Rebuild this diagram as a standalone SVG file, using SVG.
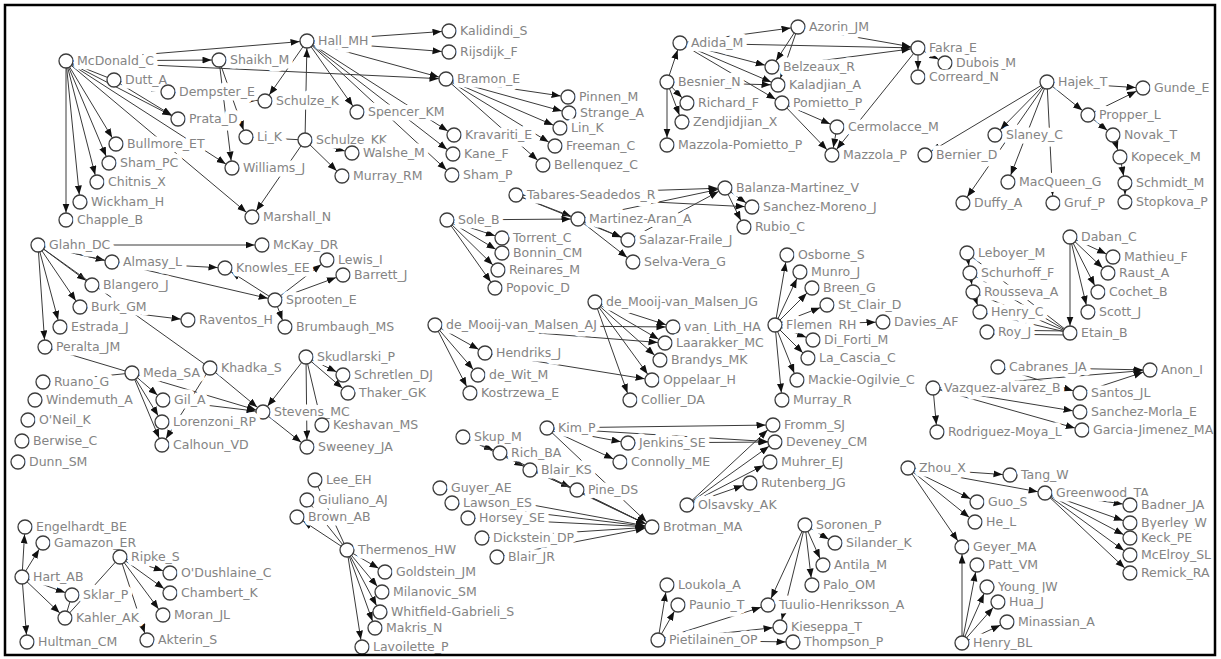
<svg xmlns="http://www.w3.org/2000/svg" width="1221" height="659" viewBox="0 0 1221 659">
<style>
  .frame { fill: none; stroke: #000000; stroke-width: 2.5; }
  #connectors line { stroke: #3a3a3a; stroke-width: 1; }
  #connectors line.a { marker-end: url(#arr); }
  .node circle { fill: #ffffff; stroke: #3c3c3c; stroke-width: 1.3; }
  .node text { font-family: "DejaVu Sans", "Liberation Sans", sans-serif; font-size: 12.5px; fill: #848484; stroke: #ffffff; stroke-width: 9; stroke-linejoin: round; paint-order: stroke; }
</style>
<defs>
  <marker id="arr" markerUnits="userSpaceOnUse" markerWidth="10" markerHeight="8" refX="16.5" refY="3.5" orient="auto">
    <path d="M0,0 L9,3.5 L0,7 z" fill="#111111"/>
  </marker>
</defs>
<rect x="0" y="0" width="1221" height="659" fill="#ffffff"/>

<g id="connectors">
  <!-- McDonald / Hall / Bramon group -->
  <line class="a" x1="66" y1="61" x2="307" y2="41"/>
  <line class="a" x1="66" y1="61" x2="219" y2="60"/>
  <line class="a" x1="66" y1="61" x2="446" y2="79"/>
  <line class="a" x1="114" y1="80" x2="66" y2="61"/>
  <line class="a" x1="114" y1="80" x2="168" y2="92"/>
  <line class="a" x1="114" y1="80" x2="178" y2="119"/>
  <line class="a" x1="66" y1="61" x2="178" y2="119"/>
  <line class="a" x1="66" y1="61" x2="116" y2="144"/>
  <line class="a" x1="66" y1="61" x2="109" y2="163"/>
  <line class="a" x1="66" y1="61" x2="97" y2="182"/>
  <line class="a" x1="66" y1="61" x2="80" y2="202"/>
  <line class="a" x1="66" y1="61" x2="66" y2="220"/>
  <line class="a" x1="66" y1="61" x2="232" y2="168"/>
  <line class="a" x1="66" y1="61" x2="252" y2="217"/>
  <line class="a" x1="219" y1="60" x2="232" y2="168"/>
  <line class="a" x1="219" y1="60" x2="246" y2="137"/>
  <line class="a" x1="307" y1="41" x2="265" y2="101"/>
  <line class="a" x1="168" y1="92" x2="265" y2="101"/>
  <line class="a" x1="305" y1="140" x2="307" y2="41"/>
  <line x1="246" y1="137" x2="305" y2="140"/>
  <line class="a" x1="305" y1="140" x2="252" y2="217"/>
  <line class="a" x1="305" y1="140" x2="352" y2="153"/>
  <line class="a" x1="305" y1="140" x2="342" y2="176"/>
  <line class="a" x1="307" y1="41" x2="449" y2="31"/>
  <line class="a" x1="307" y1="41" x2="449" y2="52"/>
  <line class="a" x1="307" y1="41" x2="446" y2="79"/>
  <line class="a" x1="307" y1="41" x2="357" y2="112"/>
  <line class="a" x1="307" y1="41" x2="454" y2="135"/>
  <line class="a" x1="307" y1="41" x2="453" y2="154"/>
  <line class="a" x1="307" y1="41" x2="452" y2="175"/>
  <line class="a" x1="446" y1="79" x2="568" y2="97"/>
  <line class="a" x1="446" y1="79" x2="569" y2="113"/>
  <line class="a" x1="446" y1="79" x2="560" y2="128"/>
  <line class="a" x1="446" y1="79" x2="555" y2="146"/>
  <line class="a" x1="446" y1="79" x2="543" y2="165"/>

  <!-- Adida / Fakra group -->
  <line class="a" x1="680" y1="43" x2="798" y2="27"/>
  <line class="a" x1="680" y1="43" x2="918" y2="48"/>
  <line class="a" x1="798" y1="27" x2="918" y2="48"/>
  <line class="a" x1="772" y1="67" x2="918" y2="48"/>
  <line class="a" x1="798" y1="27" x2="772" y2="67"/>
  <line class="a" x1="798" y1="27" x2="778" y2="85"/>
  <line class="a" x1="680" y1="43" x2="772" y2="67"/>
  <line class="a" x1="680" y1="43" x2="778" y2="85"/>
  <line class="a" x1="680" y1="43" x2="782" y2="103"/>
  <line class="a" x1="667" y1="82" x2="680" y2="43"/>
  <line class="a" x1="667" y1="82" x2="778" y2="85"/>
  <line class="a" x1="667" y1="82" x2="687" y2="103"/>
  <line class="a" x1="667" y1="82" x2="682" y2="122"/>
  <line class="a" x1="667" y1="82" x2="667" y2="145"/>
  <line class="a" x1="782" y1="103" x2="832" y2="155"/>
  <line class="a" x1="782" y1="103" x2="837" y2="127"/>
  <line class="a" x1="837" y1="127" x2="832" y2="155"/>
  <line class="a" x1="918" y1="48" x2="832" y2="155"/>
  <line class="a" x1="918" y1="48" x2="945" y2="63"/>
  <line class="a" x1="918" y1="48" x2="918" y2="77"/>

  <!-- Hajek group -->
  <line class="a" x1="1047" y1="82" x2="1143" y2="88"/>
  <line class="a" x1="1047" y1="82" x2="1088" y2="115"/>
  <line class="a" x1="1088" y1="115" x2="1143" y2="88"/>
  <line class="a" x1="1088" y1="115" x2="1113" y2="135"/>
  <line class="a" x1="1113" y1="135" x2="1120" y2="157"/>
  <line class="a" x1="1120" y1="157" x2="1125" y2="183"/>
  <line class="a" x1="1125" y1="183" x2="1125" y2="202"/>
  <line class="a" x1="1047" y1="82" x2="925" y2="155"/>
  <line class="a" x1="1047" y1="82" x2="995" y2="135"/>
  <line class="a" x1="1047" y1="82" x2="963" y2="203"/>
  <line class="a" x1="1047" y1="82" x2="1008" y2="182"/>
  <line class="a" x1="1047" y1="82" x2="1053" y2="203"/>

  <!-- Tabares / Martinez-Aran / Sole group -->
  <line class="a" x1="516" y1="195" x2="578" y2="219"/>
  <line class="a" x1="516" y1="195" x2="628" y2="240"/>
  <line class="a" x1="447" y1="220" x2="578" y2="219"/>
  <line class="a" x1="516" y1="195" x2="725" y2="188"/>
  <line class="a" x1="516" y1="195" x2="752" y2="207"/>
  <line class="a" x1="578" y1="219" x2="725" y2="188"/>
  <line class="a" x1="628" y1="240" x2="725" y2="188"/>
  <line class="a" x1="725" y1="188" x2="752" y2="207"/>
  <line class="a" x1="725" y1="188" x2="744" y2="227"/>
  <line class="a" x1="578" y1="219" x2="628" y2="240"/>
  <line class="a" x1="578" y1="219" x2="633" y2="262"/>
  <line class="a" x1="447" y1="220" x2="502" y2="238"/>
  <line class="a" x1="447" y1="220" x2="502" y2="253"/>
  <line class="a" x1="447" y1="220" x2="498" y2="270"/>
  <line class="a" x1="447" y1="220" x2="495" y2="288"/>

  <!-- Glahn / Meda / Stevens group -->
  <line class="a" x1="38" y1="245" x2="262" y2="245"/>
  <line class="a" x1="38" y1="245" x2="112" y2="262"/>
  <line class="a" x1="38" y1="245" x2="92" y2="285"/>
  <line class="a" x1="38" y1="245" x2="80" y2="307"/>
  <line class="a" x1="38" y1="245" x2="60" y2="327"/>
  <line class="a" x1="38" y1="245" x2="45" y2="347"/>
  <line class="a" x1="38" y1="245" x2="275" y2="300"/>
  <line x1="38" y1="245" x2="210" y2="368"/>
  <line class="a" x1="112" y1="262" x2="225" y2="268"/>
  <line class="a" x1="275" y1="300" x2="225" y2="268"/>
  <line class="a" x1="275" y1="300" x2="327" y2="260"/>
  <line class="a" x1="275" y1="300" x2="343" y2="275"/>
  <line class="a" x1="275" y1="300" x2="285" y2="327"/>
  <line class="a" x1="80" y1="307" x2="188" y2="320"/>
  <line class="a" x1="210" y1="368" x2="263" y2="412"/>
  <line class="a" x1="163" y1="400" x2="263" y2="412"/>
  <line class="a" x1="132" y1="373" x2="163" y2="400"/>
  <line class="a" x1="132" y1="373" x2="162" y2="422"/>
  <line class="a" x1="132" y1="373" x2="162" y2="445"/>
  <line x1="43" y1="382" x2="132" y2="373"/>
  <line x1="45" y1="347" x2="132" y2="373"/>
  <line class="a" x1="132" y1="373" x2="263" y2="412"/>
  <line class="a" x1="210" y1="368" x2="162" y2="445"/>
  <line class="a" x1="306" y1="357" x2="263" y2="412"/>
  <line class="a" x1="306" y1="357" x2="343" y2="375"/>
  <line class="a" x1="306" y1="357" x2="348" y2="393"/>
  <line class="a" x1="306" y1="357" x2="307" y2="447"/>
  <line class="a" x1="306" y1="357" x2="322" y2="425"/>
  <line class="a" x1="263" y1="412" x2="307" y2="447"/>

  <!-- de Mooij-van Malsen groups -->
  <line class="a" x1="435" y1="325" x2="485" y2="353"/>
  <line class="a" x1="435" y1="325" x2="478" y2="375"/>
  <line class="a" x1="435" y1="325" x2="470" y2="393"/>
  <line class="a" x1="435" y1="325" x2="673" y2="327"/>
  <line class="a" x1="435" y1="325" x2="665" y2="343"/>
  <line class="a" x1="485" y1="353" x2="652" y2="380"/>
  <line class="a" x1="595" y1="302" x2="673" y2="327"/>
  <line class="a" x1="595" y1="302" x2="665" y2="343"/>
  <line class="a" x1="595" y1="302" x2="660" y2="360"/>
  <line class="a" x1="595" y1="302" x2="652" y2="380"/>
  <line class="a" x1="595" y1="302" x2="630" y2="400"/>

  <!-- Flemen group -->
  <line class="a" x1="775" y1="325" x2="787" y2="255"/>
  <line class="a" x1="775" y1="325" x2="800" y2="272"/>
  <line class="a" x1="775" y1="325" x2="812" y2="288"/>
  <line class="a" x1="775" y1="325" x2="827" y2="305"/>
  <line class="a" x1="775" y1="325" x2="883" y2="322"/>
  <line class="a" x1="775" y1="325" x2="813" y2="340"/>
  <line class="a" x1="775" y1="325" x2="808" y2="358"/>
  <line class="a" x1="775" y1="325" x2="797" y2="380"/>
  <line class="a" x1="775" y1="325" x2="782" y2="400"/>

  <!-- Daban / Etain group -->
  <line class="a" x1="1070" y1="237" x2="1113" y2="257"/>
  <line class="a" x1="1070" y1="237" x2="1108" y2="273"/>
  <line class="a" x1="1070" y1="237" x2="1098" y2="292"/>
  <line class="a" x1="1070" y1="237" x2="1088" y2="312"/>
  <line class="a" x1="1070" y1="237" x2="1070" y2="333"/>
  <line class="a" x1="967" y1="253" x2="970" y2="273"/>
  <line class="a" x1="970" y1="273" x2="973" y2="292"/>
  <line class="a" x1="973" y1="292" x2="980" y2="312"/>
  <line x1="967" y1="253" x2="1070" y2="333"/>
  <line x1="970" y1="273" x2="1070" y2="333"/>
  <line x1="973" y1="292" x2="1070" y2="333"/>
  <line class="a" x1="1070" y1="333" x2="980" y2="312"/>
  <line x1="987" y1="330" x2="1070" y2="331"/>
  <line x1="987" y1="334" x2="1070" y2="335"/>

  <!-- Cabranes / Vazquez group -->
  <line class="a" x1="998" y1="367" x2="1150" y2="370"/>
  <line class="a" x1="933" y1="388" x2="1150" y2="370"/>
  <line class="a" x1="1080" y1="393" x2="1150" y2="370"/>
  <line class="a" x1="998" y1="367" x2="1080" y2="393"/>
  <line class="a" x1="933" y1="388" x2="1080" y2="412"/>
  <line class="a" x1="933" y1="388" x2="1082" y2="430"/>
  <line class="a" x1="933" y1="388" x2="937" y2="432"/>

  <!-- Kim / Brotman / Fromm group -->
  <line class="a" x1="547" y1="428" x2="773" y2="425"/>
  <line class="a" x1="547" y1="428" x2="775" y2="442"/>
  <line class="a" x1="547" y1="428" x2="628" y2="443"/>
  <line class="a" x1="547" y1="428" x2="620" y2="462"/>
  <line class="a" x1="547" y1="428" x2="652" y2="527"/>
  <line class="a" x1="628" y1="443" x2="775" y2="442"/>
  <line class="a" x1="463" y1="437" x2="500" y2="453"/>
  <line class="a" x1="500" y1="453" x2="530" y2="470"/>
  <line class="a" x1="530" y1="470" x2="577" y2="490"/>
  <line class="a" x1="577" y1="490" x2="652" y2="527"/>
  <line class="a" x1="463" y1="437" x2="652" y2="527"/>
  <line class="a" x1="500" y1="453" x2="652" y2="527"/>
  <line class="a" x1="440" y1="488" x2="652" y2="527"/>
  <line class="a" x1="452" y1="503" x2="652" y2="527"/>
  <line class="a" x1="468" y1="518" x2="652" y2="527"/>
  <line class="a" x1="482" y1="538" x2="652" y2="527"/>
  <line class="a" x1="497" y1="557" x2="652" y2="527"/>
  <line class="a" x1="687" y1="505" x2="773" y2="425"/>
  <line class="a" x1="687" y1="505" x2="775" y2="442"/>
  <line class="a" x1="687" y1="505" x2="770" y2="462"/>
  <line class="a" x1="687" y1="505" x2="750" y2="483"/>

  <!-- Thermenos group -->
  <line class="a" x1="347" y1="550" x2="297" y2="517"/>
  <line x1="347" y1="550" x2="307" y2="500"/>
  <line x1="347" y1="550" x2="315" y2="480"/>
  <line class="a" x1="347" y1="550" x2="385" y2="572"/>
  <line class="a" x1="347" y1="550" x2="382" y2="592"/>
  <line class="a" x1="347" y1="550" x2="380" y2="612"/>
  <line class="a" x1="347" y1="550" x2="375" y2="628"/>
  <line class="a" x1="347" y1="550" x2="362" y2="647"/>

  <!-- Hart / Ripke group -->
  <line class="a" x1="22" y1="577" x2="25" y2="527"/>
  <line class="a" x1="22" y1="577" x2="43" y2="543"/>
  <line class="a" x1="22" y1="577" x2="72" y2="595"/>
  <line class="a" x1="22" y1="577" x2="65" y2="618"/>
  <line class="a" x1="22" y1="577" x2="27" y2="642"/>
  <line class="a" x1="120" y1="557" x2="170" y2="573"/>
  <line class="a" x1="120" y1="557" x2="170" y2="593"/>
  <line class="a" x1="120" y1="557" x2="163" y2="615"/>
  <line class="a" x1="120" y1="557" x2="147" y2="640"/>
  <line x1="120" y1="557" x2="65" y2="618"/>
  <line x1="72" y1="595" x2="65" y2="618"/>

  <!-- Soronen / Pietilainen group -->
  <line class="a" x1="805" y1="525" x2="835" y2="543"/>
  <line class="a" x1="805" y1="525" x2="823" y2="565"/>
  <line class="a" x1="805" y1="525" x2="812" y2="585"/>
  <line class="a" x1="805" y1="525" x2="768" y2="605"/>
  <line class="a" x1="805" y1="525" x2="780" y2="627"/>
  <line class="a" x1="658" y1="640" x2="667" y2="585"/>
  <line class="a" x1="658" y1="640" x2="678" y2="605"/>
  <line class="a" x1="658" y1="640" x2="768" y2="605"/>
  <line class="a" x1="658" y1="640" x2="780" y2="627"/>
  <line class="a" x1="658" y1="640" x2="793" y2="642"/>

  <!-- Zhou / Greenwood / Henry group -->
  <line class="a" x1="908" y1="468" x2="1010" y2="475"/>
  <line class="a" x1="908" y1="468" x2="1045" y2="493"/>
  <line class="a" x1="908" y1="468" x2="977" y2="502"/>
  <line class="a" x1="908" y1="468" x2="975" y2="522"/>
  <line class="a" x1="908" y1="468" x2="962" y2="547"/>
  <line class="a" x1="1045" y1="493" x2="1130" y2="505"/>
  <line class="a" x1="1045" y1="493" x2="1130" y2="523"/>
  <line class="a" x1="1045" y1="493" x2="1130" y2="538"/>
  <line class="a" x1="1045" y1="493" x2="1130" y2="555"/>
  <line class="a" x1="1045" y1="493" x2="1130" y2="573"/>
  <line class="a" x1="962" y1="643" x2="962" y2="547"/>
  <line class="a" x1="962" y1="643" x2="977" y2="565"/>
  <line class="a" x1="962" y1="643" x2="987" y2="587"/>
  <line class="a" x1="962" y1="643" x2="998" y2="602"/>
  <line class="a" x1="962" y1="643" x2="1007" y2="622"/>
</g>

<g id="n-mcdonald-c" class="node"><circle cx="66" cy="61" r="7"/><text x="77" y="65">McDonald_C</text></g>
<g id="n-dutt-a" class="node"><circle cx="114" cy="80" r="7"/><text x="125" y="84">Dutt_A</text></g>
<g id="n-shaikh-m" class="node"><circle cx="219" cy="60" r="7"/><text x="230" y="64">Shaikh_M</text></g>
<g id="n-dempster-e" class="node"><circle cx="168" cy="92" r="7"/><text x="179" y="96">Dempster_E</text></g>
<g id="n-prata-d" class="node"><circle cx="178" cy="119" r="7"/><text x="189" y="123">Prata_D</text></g>
<g id="n-schulze-k" class="node"><circle cx="265" cy="101" r="7"/><text x="276" y="105">Schulze_K</text></g>
<g id="n-li-k" class="node"><circle cx="246" cy="137" r="7"/><text x="257" y="141">Li_K</text></g>
<g id="n-schulze-kk" class="node"><circle cx="305" cy="140" r="7"/><text x="316" y="144">Schulze_KK</text></g>
<g id="n-hall-mh" class="node"><circle cx="307" cy="41" r="7"/><text x="318" y="45">Hall_MH</text></g>
<g id="n-bullmore-et" class="node"><circle cx="116" cy="144" r="7"/><text x="127" y="148">Bullmore_ET</text></g>
<g id="n-sham-pc" class="node"><circle cx="109" cy="163" r="7"/><text x="120" y="167">Sham_PC</text></g>
<g id="n-williams-j" class="node"><circle cx="232" cy="168" r="7"/><text x="243" y="172">Williams_J</text></g>
<g id="n-chitnis-x" class="node"><circle cx="97" cy="182" r="7"/><text x="108" y="186">Chitnis_X</text></g>
<g id="n-wickham-h" class="node"><circle cx="80" cy="202" r="7"/><text x="91" y="206">Wickham_H</text></g>
<g id="n-chapple-b" class="node"><circle cx="66" cy="220" r="7"/><text x="77" y="224">Chapple_B</text></g>
<g id="n-marshall-n" class="node"><circle cx="252" cy="217" r="7"/><text x="263" y="221">Marshall_N</text></g>
<g id="n-kalidindi-s" class="node"><circle cx="449" cy="31" r="7"/><text x="460" y="35">Kalidindi_S</text></g>
<g id="n-rijsdijk-f" class="node"><circle cx="449" cy="52" r="7"/><text x="460" y="56">Rijsdijk_F</text></g>
<g id="n-bramon-e" class="node"><circle cx="446" cy="79" r="7"/><text x="457" y="83">Bramon_E</text></g>
<g id="n-spencer-km" class="node"><circle cx="357" cy="112" r="7"/><text x="368" y="116">Spencer_KM</text></g>
<g id="n-walshe-m" class="node"><circle cx="352" cy="153" r="7"/><text x="363" y="157">Walshe_M</text></g>
<g id="n-murray-rm" class="node"><circle cx="342" cy="176" r="7"/><text x="353" y="180">Murray_RM</text></g>
<g id="n-kravariti-e" class="node"><circle cx="454" cy="135" r="7"/><text x="465" y="139">Kravariti_E</text></g>
<g id="n-kane-f" class="node"><circle cx="453" cy="154" r="7"/><text x="464" y="158">Kane_F</text></g>
<g id="n-sham-p" class="node"><circle cx="452" cy="175" r="7"/><text x="463" y="179">Sham_P</text></g>
<g id="n-pinnen-m" class="node"><circle cx="568" cy="97" r="7"/><text x="579" y="101">Pinnen_M</text></g>
<g id="n-strange-a" class="node"><circle cx="569" cy="113" r="7"/><text x="580" y="117">Strange_A</text></g>
<g id="n-lin-k" class="node"><circle cx="560" cy="128" r="7"/><text x="571" y="132">Lin_K</text></g>
<g id="n-freeman-c" class="node"><circle cx="555" cy="146" r="7"/><text x="566" y="150">Freeman_C</text></g>
<g id="n-bellenquez-c" class="node"><circle cx="543" cy="165" r="7"/><text x="554" y="169">Bellenquez_C</text></g>

<g id="n-adida-m" class="node"><circle cx="680" cy="43" r="7"/><text x="691" y="47">Adida_M</text></g>
<g id="n-azorin-jm" class="node"><circle cx="798" cy="27" r="7"/><text x="809" y="31">Azorin_JM</text></g>
<g id="n-fakra-e" class="node"><circle cx="918" cy="48" r="7"/><text x="929" y="52">Fakra_E</text></g>
<g id="n-dubois-m" class="node"><circle cx="945" cy="63" r="7"/><text x="956" y="67">Dubois_M</text></g>
<g id="n-correard-n" class="node"><circle cx="918" cy="77" r="7"/><text x="929" y="81">Correard_N</text></g>
<g id="n-belzeaux-r" class="node"><circle cx="772" cy="67" r="7"/><text x="783" y="71">Belzeaux_R</text></g>
<g id="n-besnier-n" class="node"><circle cx="667" cy="82" r="7"/><text x="678" y="86">Besnier_N</text></g>
<g id="n-kaladjian-a" class="node"><circle cx="778" cy="85" r="7"/><text x="789" y="89">Kaladjian_A</text></g>
<g id="n-richard-f" class="node"><circle cx="687" cy="103" r="7"/><text x="698" y="107">Richard_F</text></g>
<g id="n-pomietto-p" class="node"><circle cx="782" cy="103" r="7"/><text x="793" y="107">Pomietto_P</text></g>
<g id="n-zendjidjian-x" class="node"><circle cx="682" cy="122" r="7"/><text x="693" y="126">Zendjidjian_X</text></g>
<g id="n-cermolacce-m" class="node"><circle cx="837" cy="127" r="7"/><text x="848" y="131">Cermolacce_M</text></g>
<g id="n-mazzola-pomietto-p" class="node"><circle cx="667" cy="145" r="7"/><text x="678" y="149">Mazzola-Pomietto_P</text></g>
<g id="n-mazzola-p" class="node"><circle cx="832" cy="155" r="7"/><text x="843" y="159">Mazzola_P</text></g>

<g id="n-hajek-t" class="node"><circle cx="1047" cy="82" r="7"/><text x="1058" y="86">Hajek_T</text></g>
<g id="n-gunde-e" class="node"><circle cx="1143" cy="88" r="7"/><text x="1154" y="92">Gunde_E</text></g>
<g id="n-propper-l" class="node"><circle cx="1088" cy="115" r="7"/><text x="1099" y="119">Propper_L</text></g>
<g id="n-slaney-c" class="node"><circle cx="995" cy="135" r="7"/><text x="1006" y="139">Slaney_C</text></g>
<g id="n-novak-t" class="node"><circle cx="1113" cy="135" r="7"/><text x="1124" y="139">Novak_T</text></g>
<g id="n-bernier-d" class="node"><circle cx="925" cy="155" r="7"/><text x="936" y="159">Bernier_D</text></g>
<g id="n-kopecek-m" class="node"><circle cx="1120" cy="157" r="7"/><text x="1131" y="161">Kopecek_M</text></g>
<g id="n-macqueen-g" class="node"><circle cx="1008" cy="182" r="7"/><text x="1019" y="186">MacQueen_G</text></g>
<g id="n-schmidt-m" class="node"><circle cx="1125" cy="183" r="7"/><text x="1136" y="187">Schmidt_M</text></g>
<g id="n-duffy-a" class="node"><circle cx="963" cy="203" r="7"/><text x="974" y="207">Duffy_A</text></g>
<g id="n-gruf-p" class="node"><circle cx="1053" cy="203" r="7"/><text x="1064" y="207">Gruf_P</text></g>
<g id="n-stopkova-p" class="node"><circle cx="1125" cy="202" r="7"/><text x="1136" y="206">Stopkova_P</text></g>

<g id="n-tabares-seadedos-r" class="node"><circle cx="516" cy="195" r="7"/><text x="527" y="199">Tabares-Seadedos_R</text></g>
<g id="n-martinez-aran-a" class="node"><circle cx="578" cy="219" r="7"/><text x="589" y="223">Martinez-Aran_A</text></g>
<g id="n-sole-b" class="node"><circle cx="447" cy="220" r="7"/><text x="458" y="224">Sole_B</text></g>
<g id="n-balanza-martinez-v" class="node"><circle cx="725" cy="188" r="7"/><text x="736" y="192">Balanza-Martinez_V</text></g>
<g id="n-sanchez-moreno-j" class="node"><circle cx="752" cy="207" r="7"/><text x="763" y="211">Sanchez-Moreno_J</text></g>
<g id="n-rubio-c" class="node"><circle cx="744" cy="227" r="7"/><text x="755" y="231">Rubio_C</text></g>
<g id="n-salazar-fraile-j" class="node"><circle cx="628" cy="240" r="7"/><text x="639" y="244">Salazar-Fraile_J</text></g>
<g id="n-selva-vera-g" class="node"><circle cx="633" cy="262" r="7"/><text x="644" y="266">Selva-Vera_G</text></g>
<g id="n-torrent-c" class="node"><circle cx="502" cy="238" r="7"/><text x="513" y="242">Torrent_C</text></g>
<g id="n-bonnin-cm" class="node"><circle cx="502" cy="253" r="7"/><text x="513" y="257">Bonnin_CM</text></g>
<g id="n-reinares-m" class="node"><circle cx="498" cy="270" r="7"/><text x="509" y="274">Reinares_M</text></g>
<g id="n-popovic-d" class="node"><circle cx="495" cy="288" r="7"/><text x="506" y="292">Popovic_D</text></g>

<g id="n-glahn-dc" class="node"><circle cx="38" cy="245" r="7"/><text x="49" y="249">Glahn_DC</text></g>
<g id="n-mckay-dr" class="node"><circle cx="262" cy="245" r="7"/><text x="273" y="249">McKay_DR</text></g>
<g id="n-almasy-l" class="node"><circle cx="112" cy="262" r="7"/><text x="123" y="266">Almasy_L</text></g>
<g id="n-knowles-ee" class="node"><circle cx="225" cy="268" r="7"/><text x="236" y="272">Knowles_EE</text></g>
<g id="n-blangero-j" class="node"><circle cx="92" cy="285" r="7"/><text x="103" y="289">Blangero_J</text></g>
<g id="n-sprooten-e" class="node"><circle cx="275" cy="300" r="7"/><text x="286" y="304">Sprooten_E</text></g>
<g id="n-lewis-i" class="node"><circle cx="327" cy="260" r="7"/><text x="338" y="264">Lewis_I</text></g>
<g id="n-barrett-j" class="node"><circle cx="343" cy="275" r="7"/><text x="354" y="279">Barrett_J</text></g>
<g id="n-burk-gm" class="node"><circle cx="80" cy="307" r="7"/><text x="91" y="311">Burk_GM</text></g>
<g id="n-raventos-h" class="node"><circle cx="188" cy="320" r="7"/><text x="199" y="324">Raventos_H</text></g>
<g id="n-brumbaugh-ms" class="node"><circle cx="285" cy="327" r="7"/><text x="296" y="331">Brumbaugh_MS</text></g>
<g id="n-estrada-j" class="node"><circle cx="60" cy="327" r="7"/><text x="71" y="331">Estrada_J</text></g>
<g id="n-peralta-jm" class="node"><circle cx="45" cy="347" r="7"/><text x="56" y="351">Peralta_JM</text></g>
<g id="n-khadka-s" class="node"><circle cx="210" cy="368" r="7"/><text x="221" y="372">Khadka_S</text></g>
<g id="n-meda-sa" class="node"><circle cx="132" cy="373" r="7"/><text x="143" y="377">Meda_SA</text></g>
<g id="n-ruano-g" class="node"><circle cx="43" cy="382" r="7"/><text x="54" y="386">Ruano_G</text></g>
<g id="n-skudlarski-p" class="node"><circle cx="306" cy="357" r="7"/><text x="317" y="361">Skudlarski_P</text></g>
<g id="n-windemuth-a" class="node"><circle cx="35" cy="400" r="7"/><text x="46" y="404">Windemuth_A</text></g>
<g id="n-gil-a" class="node"><circle cx="163" cy="400" r="7"/><text x="174" y="404">Gil_A</text></g>
<g id="n-schretlen-dj" class="node"><circle cx="343" cy="375" r="7"/><text x="354" y="379">Schretlen_DJ</text></g>
<g id="n-thaker-gk" class="node"><circle cx="348" cy="393" r="7"/><text x="359" y="397">Thaker_GK</text></g>
<g id="n-stevens-mc" class="node"><circle cx="263" cy="412" r="7"/><text x="274" y="416">Stevens_MC</text></g>
<g id="n-oneil-k" class="node"><circle cx="28" cy="420" r="7"/><text x="39" y="424">O'Neil_K</text></g>
<g id="n-lorenzoni-rp" class="node"><circle cx="162" cy="422" r="7"/><text x="173" y="426">Lorenzoni_RP</text></g>
<g id="n-keshavan-ms" class="node"><circle cx="322" cy="425" r="7"/><text x="333" y="429">Keshavan_MS</text></g>
<g id="n-berwise-c" class="node"><circle cx="22" cy="441" r="7"/><text x="33" y="445">Berwise_C</text></g>
<g id="n-calhoun-vd" class="node"><circle cx="162" cy="445" r="7"/><text x="173" y="449">Calhoun_VD</text></g>
<g id="n-sweeney-ja" class="node"><circle cx="307" cy="447" r="7"/><text x="318" y="451">Sweeney_JA</text></g>
<g id="n-dunn-sm" class="node"><circle cx="18" cy="462" r="7"/><text x="29" y="466">Dunn_SM</text></g>

<g id="n-de-mooij-van-malsen-aj" class="node"><circle cx="435" cy="325" r="7"/><text x="446" y="329">de_Mooij-van_Malsen_AJ</text></g>
<g id="n-hendriks-j" class="node"><circle cx="485" cy="353" r="7"/><text x="496" y="357">Hendriks_J</text></g>
<g id="n-de-wit-m" class="node"><circle cx="478" cy="375" r="7"/><text x="489" y="379">de_Wit_M</text></g>
<g id="n-kostrzewa-e" class="node"><circle cx="470" cy="393" r="7"/><text x="481" y="397">Kostrzewa_E</text></g>
<g id="n-de-mooij-van-malsen-jg" class="node"><circle cx="595" cy="302" r="7"/><text x="606" y="306">de_Mooij-van_Malsen_JG</text></g>
<g id="n-van-lith-ha" class="node"><circle cx="673" cy="327" r="7"/><text x="684" y="331">van_Lith_HA</text></g>
<g id="n-laarakker-mc" class="node"><circle cx="665" cy="343" r="7"/><text x="676" y="347">Laarakker_MC</text></g>
<g id="n-brandys-mk" class="node"><circle cx="660" cy="360" r="7"/><text x="671" y="364">Brandys_MK</text></g>
<g id="n-oppelaar-h" class="node"><circle cx="652" cy="380" r="7"/><text x="663" y="384">Oppelaar_H</text></g>
<g id="n-collier-da" class="node"><circle cx="630" cy="400" r="7"/><text x="641" y="404">Collier_DA</text></g>

<g id="n-flemen-rh" class="node"><circle cx="775" cy="325" r="7"/><text x="786" y="329">Flemen_RH</text></g>
<g id="n-osborne-s" class="node"><circle cx="787" cy="255" r="7"/><text x="798" y="259">Osborne_S</text></g>
<g id="n-munro-j" class="node"><circle cx="800" cy="272" r="7"/><text x="811" y="276">Munro_J</text></g>
<g id="n-breen-g" class="node"><circle cx="812" cy="288" r="7"/><text x="823" y="292">Breen_G</text></g>
<g id="n-st-clair-d" class="node"><circle cx="827" cy="305" r="7"/><text x="838" y="309">St_Clair_D</text></g>
<g id="n-davies-af" class="node"><circle cx="883" cy="322" r="7"/><text x="894" y="326">Davies_AF</text></g>
<g id="n-di-forti-m" class="node"><circle cx="813" cy="340" r="7"/><text x="824" y="344">Di_Forti_M</text></g>
<g id="n-la-cascia-c" class="node"><circle cx="808" cy="358" r="7"/><text x="819" y="362">La_Cascia_C</text></g>
<g id="n-mackie-ogilvie-c" class="node"><circle cx="797" cy="380" r="7"/><text x="808" y="384">Mackie-Ogilvie_C</text></g>
<g id="n-murray-r" class="node"><circle cx="782" cy="400" r="7"/><text x="793" y="404">Murray_R</text></g>

<g id="n-daban-c" class="node"><circle cx="1070" cy="237" r="7"/><text x="1081" y="241">Daban_C</text></g>
<g id="n-leboyer-m" class="node"><circle cx="967" cy="253" r="7"/><text x="978" y="257">Leboyer_M</text></g>
<g id="n-mathieu-f" class="node"><circle cx="1113" cy="257" r="7"/><text x="1124" y="261">Mathieu_F</text></g>
<g id="n-schurhoff-f" class="node"><circle cx="970" cy="273" r="7"/><text x="981" y="277">Schurhoff_F</text></g>
<g id="n-raust-a" class="node"><circle cx="1108" cy="273" r="7"/><text x="1119" y="277">Raust_A</text></g>
<g id="n-rousseva-a" class="node"><circle cx="973" cy="292" r="7"/><text x="984" y="296">Rousseva_A</text></g>
<g id="n-cochet-b" class="node"><circle cx="1098" cy="292" r="7"/><text x="1109" y="296">Cochet_B</text></g>
<g id="n-henry-c" class="node"><circle cx="980" cy="312" r="7"/><text x="991" y="316">Henry_C</text></g>
<g id="n-scott-j" class="node"><circle cx="1088" cy="312" r="7"/><text x="1099" y="316">Scott_J</text></g>
<g id="n-roy-j" class="node"><circle cx="987" cy="332" r="7"/><text x="998" y="336">Roy_J</text></g>
<g id="n-etain-b" class="node"><circle cx="1070" cy="333" r="7"/><text x="1081" y="337">Etain_B</text></g>

<g id="n-cabranes-ja" class="node"><circle cx="998" cy="367" r="7"/><text x="1009" y="371">Cabranes_JA</text></g>
<g id="n-anon-i" class="node"><circle cx="1150" cy="370" r="7"/><text x="1161" y="374">Anon_I</text></g>
<g id="n-vazquez-alvarez-b" class="node"><circle cx="933" cy="388" r="7"/><text x="944" y="392">Vazquez-alvarez_B</text></g>
<g id="n-santos-jl" class="node"><circle cx="1080" cy="393" r="7"/><text x="1091" y="397">Santos_JL</text></g>
<g id="n-sanchez-morla-e" class="node"><circle cx="1080" cy="412" r="7"/><text x="1091" y="416">Sanchez-Morla_E</text></g>
<g id="n-rodriguez-moya-l" class="node"><circle cx="937" cy="432" r="7"/><text x="948" y="436">Rodriguez-Moya_L</text></g>
<g id="n-garcia-jimenez-ma" class="node"><circle cx="1082" cy="430" r="7"/><text x="1093" y="434">Garcia-Jimenez_MA</text></g>

<g id="n-kim-p" class="node"><circle cx="547" cy="428" r="7"/><text x="558" y="432">Kim_P</text></g>
<g id="n-skup-m" class="node"><circle cx="463" cy="437" r="7"/><text x="474" y="441">Skup_M</text></g>
<g id="n-jenkins-se" class="node"><circle cx="628" cy="443" r="7"/><text x="639" y="447">Jenkins_SE</text></g>
<g id="n-rich-ba" class="node"><circle cx="500" cy="453" r="7"/><text x="511" y="457">Rich_BA</text></g>
<g id="n-connolly-me" class="node"><circle cx="620" cy="462" r="7"/><text x="631" y="466">Connolly_ME</text></g>
<g id="n-blair-ks" class="node"><circle cx="530" cy="470" r="7"/><text x="541" y="474">Blair_KS</text></g>
<g id="n-fromm-sj" class="node"><circle cx="773" cy="425" r="7"/><text x="784" y="429">Fromm_SJ</text></g>
<g id="n-deveney-cm" class="node"><circle cx="775" cy="442" r="7"/><text x="786" y="446">Deveney_CM</text></g>
<g id="n-muhrer-ej" class="node"><circle cx="770" cy="462" r="7"/><text x="781" y="466">Muhrer_EJ</text></g>
<g id="n-rutenberg-jg" class="node"><circle cx="750" cy="483" r="7"/><text x="761" y="487">Rutenberg_JG</text></g>
<g id="n-pine-ds" class="node"><circle cx="577" cy="490" r="7"/><text x="588" y="494">Pine_DS</text></g>
<g id="n-guyer-ae" class="node"><circle cx="440" cy="488" r="7"/><text x="451" y="492">Guyer_AE</text></g>
<g id="n-lawson-es" class="node"><circle cx="452" cy="503" r="7"/><text x="463" y="507">Lawson_ES</text></g>
<g id="n-olsavsky-ak" class="node"><circle cx="687" cy="505" r="7"/><text x="698" y="509">Olsavsky_AK</text></g>
<g id="n-horsey-se" class="node"><circle cx="468" cy="518" r="7"/><text x="479" y="522">Horsey_SE</text></g>
<g id="n-brotman-ma" class="node"><circle cx="652" cy="527" r="7"/><text x="663" y="531">Brotman_MA</text></g>
<g id="n-dickstein-dp" class="node"><circle cx="482" cy="538" r="7"/><text x="493" y="542">Dickstein_DP</text></g>
<g id="n-blair-jr" class="node"><circle cx="497" cy="557" r="7"/><text x="508" y="561">Blair_JR</text></g>

<g id="n-lee-eh" class="node"><circle cx="315" cy="480" r="7"/><text x="326" y="484">Lee_EH</text></g>
<g id="n-giuliano-aj" class="node"><circle cx="307" cy="500" r="7"/><text x="318" y="504">Giuliano_AJ</text></g>
<g id="n-brown-ab" class="node"><circle cx="297" cy="517" r="7"/><text x="308" y="521">Brown_AB</text></g>
<g id="n-thermenos-hw" class="node"><circle cx="347" cy="550" r="7"/><text x="358" y="554">Thermenos_HW</text></g>
<g id="n-goldstein-jm" class="node"><circle cx="385" cy="572" r="7"/><text x="396" y="576">Goldstein_JM</text></g>
<g id="n-milanovic-sm" class="node"><circle cx="382" cy="592" r="7"/><text x="393" y="596">Milanovic_SM</text></g>
<g id="n-whitfield-gabrieli-s" class="node"><circle cx="380" cy="612" r="7"/><text x="391" y="616">Whitfield-Gabrieli_S</text></g>
<g id="n-makris-n" class="node"><circle cx="375" cy="628" r="7"/><text x="386" y="632">Makris_N</text></g>
<g id="n-lavoilette-p" class="node"><circle cx="362" cy="647" r="7"/><text x="373" y="651">Lavoilette_P</text></g>

<g id="n-engelhardt-be" class="node"><circle cx="25" cy="527" r="7"/><text x="36" y="531">Engelhardt_BE</text></g>
<g id="n-gamazon-er" class="node"><circle cx="43" cy="543" r="7"/><text x="54" y="547">Gamazon_ER</text></g>
<g id="n-hart-ab" class="node"><circle cx="22" cy="577" r="7"/><text x="33" y="581">Hart_AB</text></g>
<g id="n-ripke-s" class="node"><circle cx="120" cy="557" r="7"/><text x="131" y="561">Ripke_S</text></g>
<g id="n-odushlaine-c" class="node"><circle cx="170" cy="573" r="7"/><text x="181" y="577">O'Dushlaine_C</text></g>
<g id="n-sklar-p" class="node"><circle cx="72" cy="595" r="7"/><text x="83" y="599">Sklar_P</text></g>
<g id="n-chambert-k" class="node"><circle cx="170" cy="593" r="7"/><text x="181" y="597">Chambert_K</text></g>
<g id="n-kahler-ak" class="node"><circle cx="65" cy="618" r="7"/><text x="76" y="622">Kahler_AK</text></g>
<g id="n-moran-jl" class="node"><circle cx="163" cy="615" r="7"/><text x="174" y="619">Moran_JL</text></g>
<g id="n-hultman-cm" class="node"><circle cx="27" cy="642" r="7"/><text x="38" y="646">Hultman_CM</text></g>
<g id="n-akterin-s" class="node"><circle cx="147" cy="640" r="7"/><text x="158" y="644">Akterin_S</text></g>

<g id="n-soronen-p" class="node"><circle cx="805" cy="525" r="7"/><text x="816" y="529">Soronen_P</text></g>
<g id="n-silander-k" class="node"><circle cx="835" cy="543" r="7"/><text x="846" y="547">Silander_K</text></g>
<g id="n-antila-m" class="node"><circle cx="823" cy="565" r="7"/><text x="834" y="569">Antila_M</text></g>
<g id="n-palo-om" class="node"><circle cx="812" cy="585" r="7"/><text x="823" y="589">Palo_OM</text></g>
<g id="n-loukola-a" class="node"><circle cx="667" cy="585" r="7"/><text x="678" y="589">Loukola_A</text></g>
<g id="n-paunio-t" class="node"><circle cx="678" cy="605" r="7"/><text x="689" y="609">Paunio_T</text></g>
<g id="n-tuulio-henriksson-a" class="node"><circle cx="768" cy="605" r="7"/><text x="779" y="609">Tuulio-Henriksson_A</text></g>
<g id="n-kieseppa-t" class="node"><circle cx="780" cy="627" r="7"/><text x="791" y="631">Kieseppa_T</text></g>
<g id="n-pietilainen-op" class="node"><circle cx="658" cy="640" r="7"/><text x="669" y="644">Pietilainen_OP</text></g>
<g id="n-thompson-p" class="node"><circle cx="793" cy="642" r="7"/><text x="804" y="646">Thompson_P</text></g>

<g id="n-zhou-x" class="node"><circle cx="908" cy="468" r="7"/><text x="919" y="472">Zhou_X</text></g>
<g id="n-tang-w" class="node"><circle cx="1010" cy="475" r="7"/><text x="1021" y="479">Tang_W</text></g>
<g id="n-greenwood-ta" class="node"><circle cx="1045" cy="493" r="7"/><text x="1056" y="497">Greenwood_TA</text></g>
<g id="n-guo-s" class="node"><circle cx="977" cy="502" r="7"/><text x="988" y="506">Guo_S</text></g>
<g id="n-he-l" class="node"><circle cx="975" cy="522" r="7"/><text x="986" y="526">He_L</text></g>
<g id="n-badner-ja" class="node"><circle cx="1130" cy="505" r="7"/><text x="1141" y="509">Badner_JA</text></g>
<g id="n-byerley-w" class="node"><circle cx="1130" cy="523" r="7"/><text x="1141" y="527">Byerley_W</text></g>
<g id="n-keck-pe" class="node"><circle cx="1130" cy="538" r="7"/><text x="1141" y="542">Keck_PE</text></g>
<g id="n-mcelroy-sl" class="node"><circle cx="1130" cy="555" r="7"/><text x="1141" y="559">McElroy_SL</text></g>
<g id="n-remick-ra" class="node"><circle cx="1130" cy="573" r="7"/><text x="1141" y="577">Remick_RA</text></g>
<g id="n-geyer-ma" class="node"><circle cx="962" cy="547" r="7"/><text x="973" y="551">Geyer_MA</text></g>
<g id="n-patt-vm" class="node"><circle cx="977" cy="565" r="7"/><text x="988" y="569">Patt_VM</text></g>
<g id="n-young-jw" class="node"><circle cx="987" cy="587" r="7"/><text x="998" y="591">Young_JW</text></g>
<g id="n-hua-j" class="node"><circle cx="998" cy="602" r="7"/><text x="1009" y="606">Hua_J</text></g>
<g id="n-minassian-a" class="node"><circle cx="1007" cy="622" r="7"/><text x="1018" y="626">Minassian_A</text></g>
<g id="n-henry-bl" class="node"><circle cx="962" cy="643" r="7"/><text x="973" y="647">Henry_BL</text></g>

<rect class="frame" x="5" y="5" width="1210" height="650"/>
</svg>
